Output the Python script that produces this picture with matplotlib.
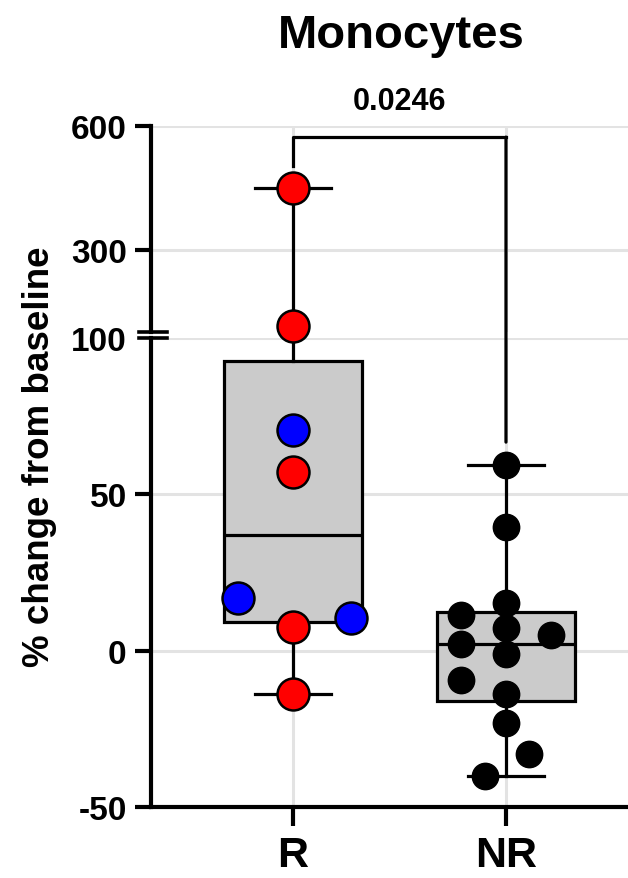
import numpy as np
import matplotlib
matplotlib.use('Agg')
from matplotlib import pyplot as plt
from matplotlib.patches import ConnectionPatch

# data
groups = ['R', 'NR']
r_values = [450, 115, 70.6, 57, 17, 10.6, 7.7, -14]
r_colors = ['red', 'red', 'blue', 'red', 'blue', 'blue', 'red', 'red']
r_jitter = [0, 0, 0, 0, -0.26, 0.27, 0, 0]
nr_values = [59.4, 39.6, 15.4, 11.3, 7.3, 5.1, 2.0, -1.0, -9.5, -13.8, -23.2, -33, -40]
nr_jitter = [0, 0, 0, -0.21, 0, 0.21, -0.21, 0, -0.21, 0, 0, 0.11, -0.10]
p_value = '0.0246'
title = 'Monocytes'
y_label = '% change from baseline'
low_ticks = [-50, 0, 50, 100]
high_ticks = [300, 600]

plt.rcParams['font.family'] = ['Liberation Sans', 'DejaVu Sans']
plt.rcParams['font.weight'] = 'bold'
plt.rcParams['axes.unicode_minus'] = False

W, H = 628, 879
fig = plt.figure(figsize=(W / 100, H / 100), dpi=100)

# lower and upper segment of the broken y axis
left = 151 / W
ax_lo = fig.add_axes([left, (H - 808) / H, 1 - left, (808 - 339) / H])
ax_hi = fig.add_axes([left, (H - 333) / H, 1 - left, (333 - 127) / H])

grid_c = '#e3e3e3'
box_c = '#cbcbcb'
lw = 2.3


def box_stats(vals):
    v = np.array(vals, dtype=float)
    q1, med, q3 = np.percentile(v, [25, 50, 75], method='hazen')
    return dict(med=med, q1=q1, q3=q3, whislo=v.min(), whishi=v.max())


stats = [box_stats(r_values), box_stats(nr_values)]

for ax in (ax_lo, ax_hi):
    ax.set_axisbelow(True)
    ax.bxp(stats, positions=[0, 1], widths=0.65, capwidths=0.36,
           showfliers=False, patch_artist=True, showbox=(ax is ax_lo),
           boxprops=dict(facecolor=box_c, edgecolor='black', linewidth=lw),
           medianprops=dict(color='black', linewidth=lw if ax is ax_lo else 0),
           whiskerprops=dict(color='black', linewidth=lw),
           capprops=dict(color='black', linewidth=lw))
    ax.set_xlim(-0.667, 1.573)
    ax.grid(True, color=grid_c, linewidth=2.2)
    for s in ('top', 'right'):
        ax.spines[s].set_visible(False)
    ax.spines['left'].set_linewidth(3)
    ax.spines['bottom'].set_linewidth(3)
    ax.tick_params(axis='y', length=11.5, width=3, labelsize=24, pad=6)

ax_lo.set_ylim(-50, 100)
ax_lo.set_yticks(low_ticks)
ax_lo.set_xticks([0, 1])
ax_lo.set_xticklabels(groups)
ax_lo.tick_params(axis='x', length=14, width=3, labelsize=31, pad=6)
ax_lo.yaxis.get_major_ticks()[-1].tick1line.set_visible(False)

ax_hi.set_ylim(100, 600)
ax_hi.set_yticks(high_ticks)
ax_hi.set_xticks([0, 1])
ax_hi.spines['bottom'].set_visible(False)
ax_hi.tick_params(axis='x', bottom=False, labelbottom=False)

# points
for v, c, j in zip(r_values, r_colors, r_jitter):
    ax = ax_hi if v > 100 else ax_lo
    ax.plot(0 + j, v, 'o', ms=23, mfc=c, mec='black', mew=1.8,
            clip_on=False, zorder=5)
for v, j in zip(nr_values, nr_jitter):
    ax_lo.plot(1 + j, v, 'o', ms=19, mfc='black', mec='black',
               clip_on=False, zorder=5)

# axis break marks
for ax, yy in ((ax_lo, 1.0), (ax_hi, 0.0)):
    ax.plot([-0.025, 0.034], [yy, yy], transform=ax.transAxes,
            color='black', lw=2.6, clip_on=False, zorder=6)

# significance bracket
ax_hi.plot([0, 0, 1], [504, 573, 573], color='black', lw=lw,
           clip_on=False, zorder=4)
leg = ConnectionPatch(xyA=(1, 573), coordsA=ax_hi.transData,
                      xyB=(1, 66.7), coordsB=ax_lo.transData,
                      color='black', lw=lw, zorder=4)
fig.add_artist(leg)
ax_hi.text(0.5, 661, p_value, ha='center', va='center', fontsize=22,
           fontweight='bold', clip_on=False)

fig.text(401 / W, 1 - 48 / H, title, ha='center', va='baseline',
         fontsize=34, fontweight='bold')
fig.text(40 / W, 1 - 457 / H, y_label, rotation=90, ha='center',
         va='center', fontsize=26.5, fontweight='bold')

fig.savefig('out.png', dpi=100)
